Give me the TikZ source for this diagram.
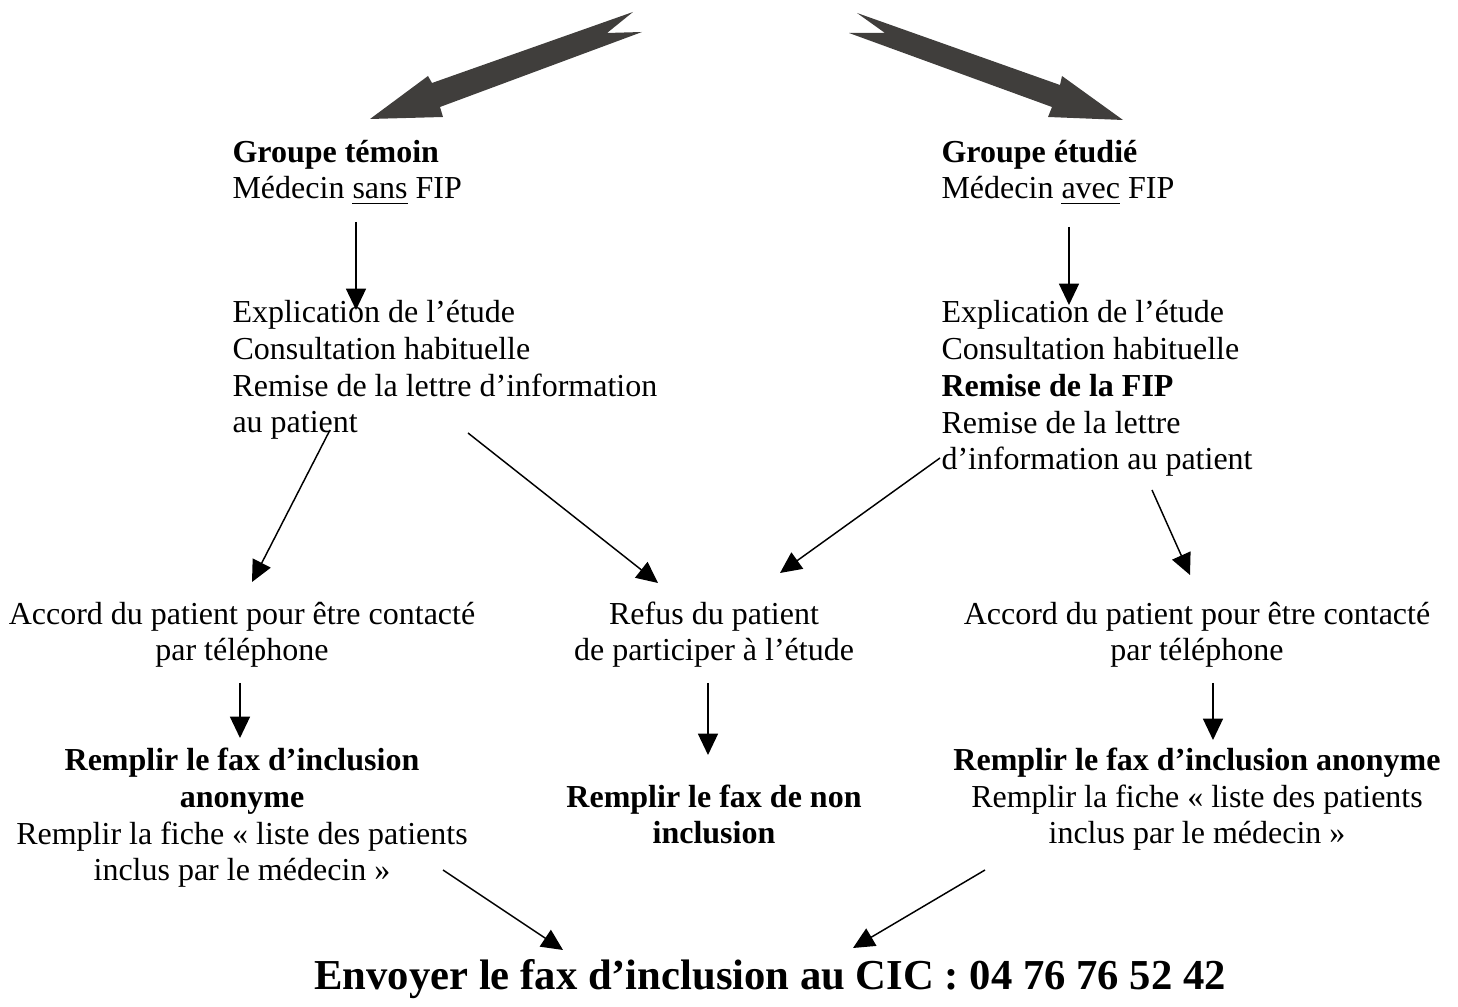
\documentclass[tikz,border=0pt]{standalone}
\usepackage{fontspec}
\setmainfont{Liberation Serif}
\usetikzlibrary{arrows.meta}
\definecolor{bigarrow}{RGB}{64,62,60}
\tikzset{
 txt/.style={inner sep=0pt, font=\fontsize{12}{13.8}\selectfont},
 lefttxt/.style={txt, align=left, anchor=base west},
 ctrtxt/.style={txt, align=center, anchor=base},
 arr/.style={-{Triangle[length=8pt,width=7.5pt]}, line width=0.55pt},
 bigarr/.style={fill=bigarrow, draw=none}
}
\begin{document}
\begin{tikzpicture}[x=0.375pt,y=-0.375pt]
\useasboundingbox (0,0) rectangle (1458,1007);
% big arrows
\fill[bigarr] (370,119) -- (428,76) -- (432,83) -- (633,12) -- (607,33) -- (642,32) -- (440,107) -- (443,117) -- cycle;
\fill[bigarr] (1123,120) -- (1048,117) -- (1052,107) -- (849,33) -- (885,33) -- (857,13) -- (1060,85) -- (1062,76) -- cycle;
% text nodes (anchor = baseline of the last line)
\node[lefttxt] (g1) at (232,199) {\textbf{Groupe témoin}\\Médecin \underline{sans} FIP};
\node[lefttxt] (e1) at (232,433) {Explication de l’étude\\Consultation habituelle\\Remise de la lettre d’information\\au patient};
\node[lefttxt] (g2) at (941,199) {\textbf{Groupe étudié}\\Médecin \underline{avec} FIP};
\node[lefttxt] (e2) at (941,470) {Explication de l’étude\\Consultation habituelle\\\textbf{Remise de la FIP}\\Remise de la lettre\\d’information au patient};
\node[ctrtxt] (a1) at (242,661) {Accord du patient pour être contacté\\par téléphone};
\node[ctrtxt] (rf) at (714,661) {Refus du patient\\de participer à l’étude};
\node[ctrtxt] (a2) at (1197,661) {Accord du patient pour être contacté\\par téléphone};
\node[ctrtxt] (f1) at (242,881) {\textbf{Remplir le fax d’inclusion}\\\textbf{anonyme}\\Remplir la fiche «~liste des patients\\inclus par le médecin~»};
\node[ctrtxt] (nf) at (714,844) {\textbf{Remplir le fax de non}\\\textbf{inclusion}};
\node[ctrtxt] (f2) at (1197,844) {\textbf{Remplir le fax d’inclusion anonyme}\\Remplir la fiche «~liste des patients\\inclus par le médecin~»};
\node[inner sep=0pt, anchor=base, font={\fontsize{16}{18.4}\selectfont\bfseries}] (fin) at (770,990) {Envoyer le fax d’inclusion au CIC : 04 76 76 52 42};
% connector end points
\coordinate (c1a) at (356,222); \coordinate (c1b) at (356,310);
\coordinate (c2a) at (1069,227); \coordinate (c2b) at (1069,305);
\coordinate (c3a) at (330,430); \coordinate (c3b) at (252,582);
\coordinate (c4a) at (468,433); \coordinate (c4b) at (658,583);
\coordinate (c5a) at (940,458); \coordinate (c5b) at (780,573);
\coordinate (c6a) at (1152,490); \coordinate (c6b) at (1190,575);
\coordinate (c7a) at (240,683); \coordinate (c7b) at (240,738);
\coordinate (c8a) at (708,683); \coordinate (c8b) at (708,755);
\coordinate (c9a) at (1213,683); \coordinate (c9b) at (1213,740);
\coordinate (c10a) at (443,870); \coordinate (c10b) at (563,950);
\coordinate (c11a) at (985,870); \coordinate (c11b) at (853,948);
\draw[arr] (c1a) -- (c1b);
\draw[arr] (c2a) -- (c2b);
\draw[arr] (c3a) -- (c3b);
\draw[arr] (c4a) -- (c4b);
\draw[arr] (c5a) -- (c5b);
\draw[arr] (c6a) -- (c6b);
\draw[arr] (c7a) -- (c7b);
\draw[arr] (c8a) -- (c8b);
\draw[arr] (c9a) -- (c9b);
\draw[arr] (c10a) -- (c10b);
\draw[arr] (c11a) -- (c11b);
\end{tikzpicture}
\end{document}
